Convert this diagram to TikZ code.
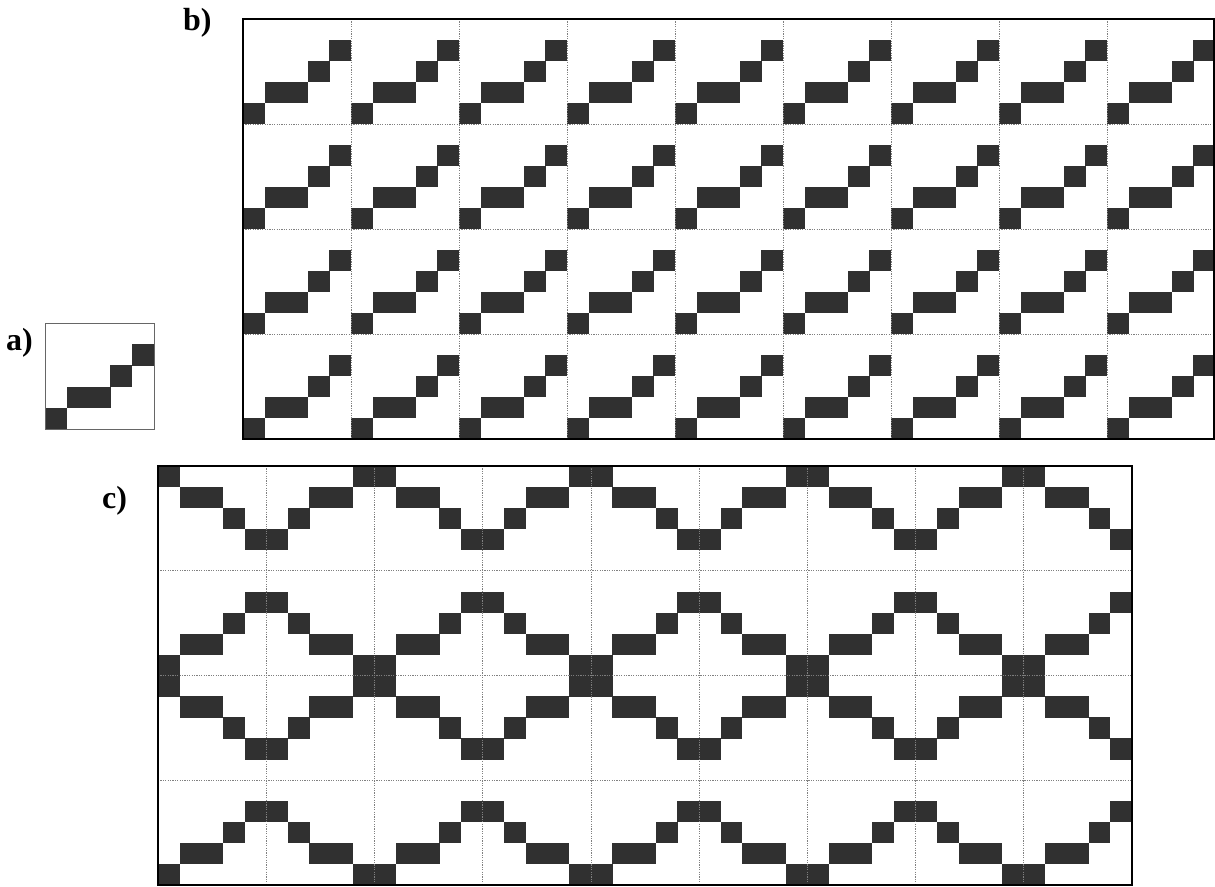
\documentclass[tikz,border=0pt]{standalone}
\usepackage{fontspec}
\setmainfont{Liberation Serif}
\definecolor{cellfill}{RGB}{48,48,48}
\tikzset{
  cell/.style={fill=cellfill},
  gridline/.style={draw=black!50,line width=0.6pt,dash pattern=on 1.2pt off 1.2pt},
  outerbox/.style={draw=black,line width=1.6pt},
  smallbox/.style={draw=black!60,line width=0.9pt},
  lbl/.style={font=\fontsize{32}{36}\selectfont\bfseries,anchor=base west,inner sep=0pt}
}
\begin{document}
\begin{tikzpicture}[x=1pt,y=-1pt]
\useasboundingbox (0,0) rectangle (1215,886);
% ---------- labels
\node[lbl] (la) at (6,350) {a)};
\node[lbl] (lb) at (183,30) {b)};
\node[lbl] (lc) at (102,508) {c)};
% ---------- a) single motif
\def\aw{21.8}\def\ah{21.2}
\foreach \cx/\cy in {0/0,1/1,2/1,3/2,4/3}{
  \pgfmathsetmacro\xx{45+\cx*\aw}
  \pgfmathsetmacro\yy{323+(4-\cy)*\ah}
  \fill[cell] (\xx,\yy) rectangle ++(\aw+0.2,\ah+0.2);
}
\draw[smallbox] (45,323) rectangle (154,429);
% ---------- b) repeated motif
\def\bx{243}\def\by{19}\def\bw{108}\def\bh{105}
\foreach \i in {0,...,8}{
 \foreach \j in {0,...,3}{
  \foreach \cx/\cy in {0/0,1/1,2/1,3/2,4/3}{
   \pgfmathsetmacro\xx{\bx+\i*\bw+\cx*\bw/5}
   \pgfmathsetmacro\yy{\by+\j*\bh+(4-\cy)*\bh/5}
   \fill[cell] (\xx,\yy) rectangle ++(\bw/5+0.2,\bh/5+0.2);
  }
 }
}
\foreach \i in {1,...,8}{
  \draw[gridline] (\bx+\i*\bw,\by) -- (\bx+\i*\bw,\by+4*\bh);
}
\foreach \j in {1,2,3}{
  \draw[gridline] (\bx,\by+\j*\bh) -- (1215,\by+\j*\bh);
}
\draw[outerbox] (\bx,\by) rectangle (1214.2,\by+4*\bh);
% ---------- c) mirrored motif
\def\qx{158}\def\qy{466}\def\qw{108.2}\def\qh{104.75}
\foreach \i in {0,...,8}{
 \foreach \j in {0,...,3}{
  \foreach \cx/\cy in {0/0,1/1,2/1,3/2,4/3}{
   \pgfmathsetmacro\px{isodd(\i) ? 4-\cx : \cx}
   \pgfmathsetmacro\py{isodd(\j) ? 4-\cy : \cy}
   \pgfmathsetmacro\xx{\qx+\i*\qw+\px*\qw/5}
   \pgfmathsetmacro\yy{\qy+\j*\qh+\py*\qh/5}
   \fill[cell] (\xx,\yy) rectangle ++(\qw/5+0.2,\qh/5+0.2);
  }
 }
}
\foreach \i in {1,...,8}{
  \draw[gridline] (\qx+\i*\qw,\qy) -- (\qx+\i*\qw,\qy+4*\qh);
}
\foreach \j in {1,2,3}{
  \draw[gridline] (\qx,\qy+\j*\qh) -- (\qx+9*\qw,\qy+\j*\qh);
}
\draw[outerbox] (\qx,\qy) rectangle (\qx+9*\qw,\qy+4*\qh);
\end{tikzpicture}
\end{document}
